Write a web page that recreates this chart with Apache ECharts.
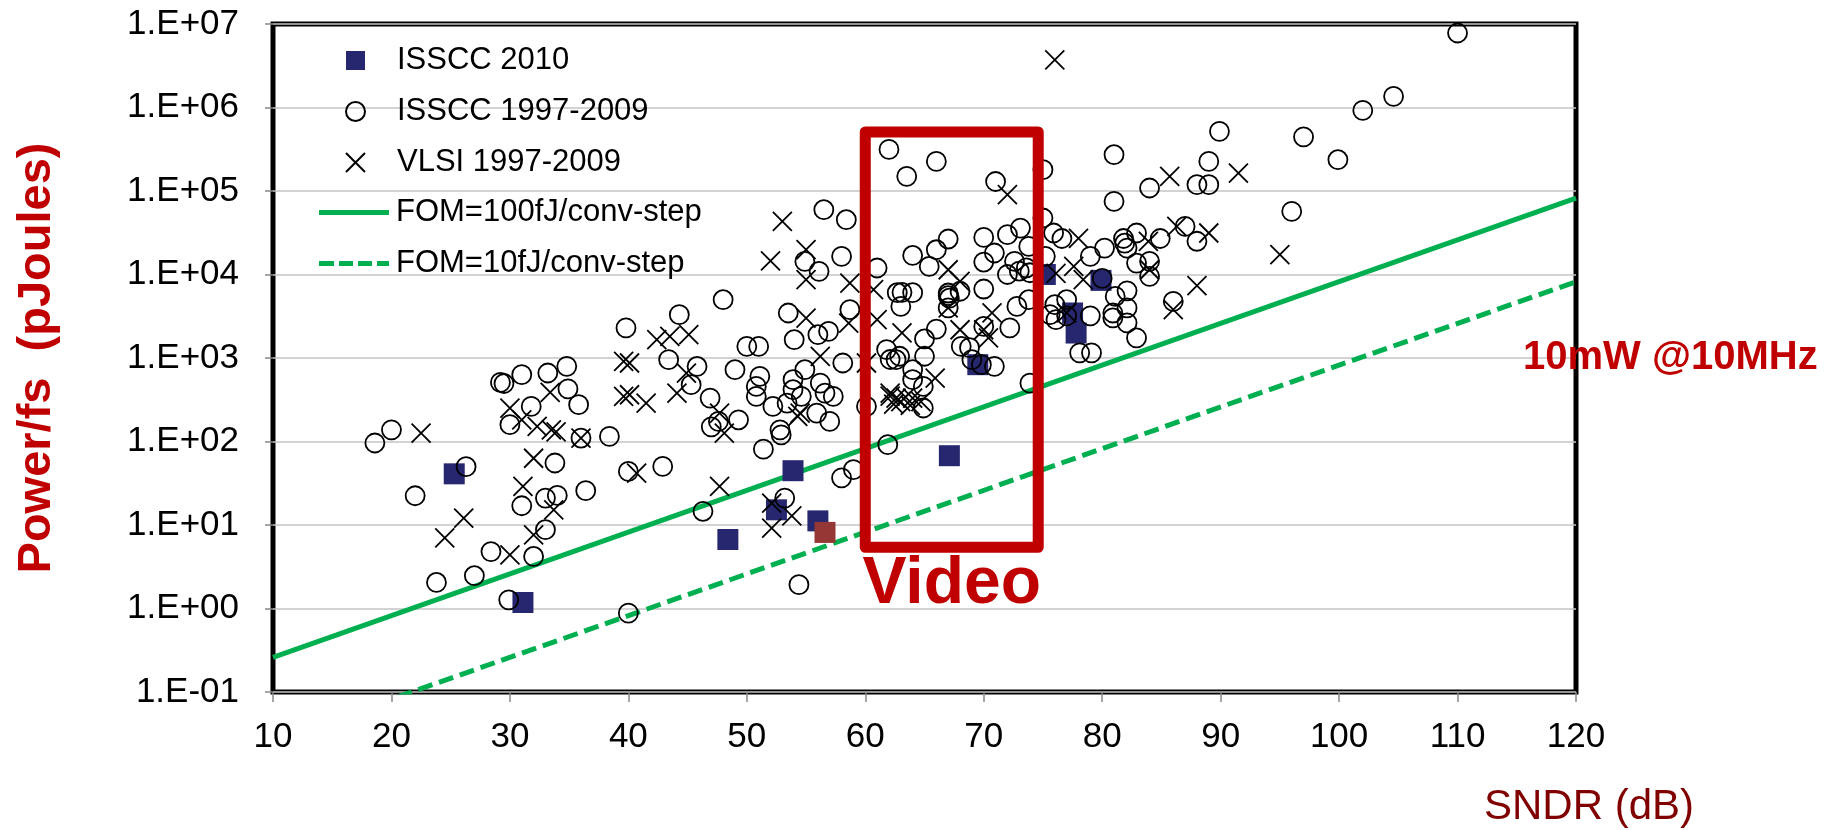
<!DOCTYPE html>
<html>
<head>
<meta charset="utf-8">
<script src="https://cdn.jsdelivr.net/npm/echarts@6/dist/echarts.min.js"></script>
<style>
html,body{margin:0;padding:0;background:#fff;}
#chart{width:1837px;height:830px;}
</style>
</head>
<body>
<div id="chart"></div>
<script>
// ---------- DATA ----------
const yTickLabels = ['1.E-01','1.E+00','1.E+01','1.E+02','1.E+03','1.E+04','1.E+05','1.E+06','1.E+07'];
const legendScatter = ['ISSCC 2010','ISSCC 1997-2009','VLSI 1997-2009'];
const legendLines = ['FOM=100fJ/conv-step','FOM=10fJ/conv-step'];

// [SNDR dB, Power/fs pJ]
const isscc2010 = [[25.3,41],[31.1,1.18],[48.4,6.7],[52.5,15.2],[53.9,44.7],[56.0,11.2],[56.6,8.15],[67.1,67.6],[69.5,832],[75.2,10000],[77.5,3460],[77.8,1990],[79.9,8500]];
const isscc2010Highlight = 6;

const isscc9709 = [
[39.8,2290],[29.2,510],[29.5,495],[31.0,631],[33.2,661],[34.8,794],[34.9,426],[35.8,276],[31.8,263],[30.0,159],
[36.0,110],[38.4,115],[40.0,43.8],[20.0,138],[18.6,96],[26.3,50],[22.0,22.4],[33.8,55.3],[33.0,21],[34.0,22.6],
[36.4,25.8],[31.0,17],[33.0,8.8],[32.0,4.2],[28.4,4.8],[27.0,2.47],[23.8,2.05],[29.9,1.27],[40.0,0.88],
[56.5,59700],[58.4,45300],[58.0,16500],[61.0,11970],[56.1,10900],[54.9,14350],[62.0,315000],[48.0,4990],[44.3,3300],
[53.5,3460],[58.7,3790],[56.9,2085],[56.0,1900],[54.0,1656],[50.0,1377],[51.0,1377],[43.4,955],[45.8,792],[49.0,724],
[51.1,603],[50.8,457],[45.3,479],[46.9,331],[50.8,347],[52.2,263],[53.9,550],[54.9,724],[56.2,501],[57.3,347],[58.1,871],
[54.6,347],[53.9,417],[55.9,219],[56.6,380],[53.4,288],[47.6,174],[49.3,182],[52.8,138],[57.0,174],[60.1,263],[61.8,1260],
[62.6,955],[62.7,6050],[47.0,150],[52.9,120],[51.4,81],[42.9,50.3],[46.3,14.6],[53.2,21],[58.0,36.6],[59.0,46],[61.9,91.6],
[54.4,1.93],[63.5,150000],[66.0,226000],[71.0,130000],[75.0,180000],[81.0,272000],[81.0,75100],[75.0,47500],[67.0,26600],
[70.0,27800],[72.0,30000],[73.1,36000],[66.0,19800],[64.0,16900],[65.4,12500],[70.0,14100],[70.9,18100],[73.8,21700],
[72.6,14400],[72.0,10000],[73.6,12000],[73.0,11000],[73.9,10500],[63.1,6110],[64.0,6050],[63.0,4150],[67.0,6000],[67.0,5600],
[67.1,5200],[68.0,6300],[70.0,6700],[67.0,3980],[72.8,4150],[73.8,4990],[66.0,2220],[70.0,2390],[72.2,2290],[65.0,1690],
[68.1,1380],[68.8,1330],[69.0,955],[69.8,832],[70.9,795],[62.9,1050],[62.1,960],[65.0,1050],[64.0,724],[64.0,550],[64.9,457],
[64.9,252],[73.9,500],[75.9,31400],[76.6,27000],[80.2,20700],[81.8,27000],[82.1,20700],[82.9,31400],[82.9,13700],[79.0,16500],
[75.2,16500],[76.0,4350],[77.0,4990],[75.6,3300],[76.1,2880],[77.0,3200],[81.1,5470],[82.1,6370],[80.9,3460],[82.1,3980],
[80.9,3020],[82.1,2630],[82.9,1740],[78.1,1150],[79.1,1150],[79.0,3200],[80.0,9000],
[104.6,1360000],[102.0,923000],[89.9,518000],[97.0,444000],[99.9,237000],[89.0,226000],[84.0,108600],[88.0,119000],
[89.0,119000],[96.0,57000],[87.0,37700],[84.9,27000],[81.9,23700],[88.0,25000],[84.0,14400],[84.0,9500],[86.0,4760],
[110.0,7800000]
];

const vlsi9709 = [
[22.5,126],[39.6,912],[39.6,347],[30.0,251],[31.0,182],[32.3,152],[33.4,387],[33.5,138],[33.9,130],[32.0,63],[31.1,29],
[33.7,15.2],[32.0,7.6],[30.0,4.4],[26.1,12.1],[24.5,7.0],[36.0,110],
[53.0,43200],[52.0,14600],[55.0,19800],[55.0,8670],[58.7,7900],[60.7,6580],[61.0,2880],[58.6,2620],[55.0,3010],[42.4,1656],
[43.5,1815],[45.1,1900],[40.1,871],[56.2,1047],[60.1,871],[44.9,661],[44.1,380],[40.1,363],[41.5,288],[47.7,219],[54.5,219],
[62.1,380],[62.6,331],
[40.7,41.9],[47.7,29],[52.1,18.3],[53.8,12.9],[52.1,9.2],[48.1,126],[54.3,200],
[72.0,90300],[67.0,11400],[68.0,8260],[67.0,3980],[70.7,3460],[70.0,2180],[70.4,1740],[68.0,2180],[63.1,2000],[65.9,575],
[62.1,350],[63.0,300],[63.4,340],[62.4,280],[64.0,330],[64.7,300],[63.8,270],[78.0,27000],[77.6,12500],[78.4,8670],
[76.1,10300],[77.0,3460],
[85.7,150000],[91.5,164000],[86.3,37700],[89.0,31400],[83.9,25000],[84.0,11400],[95.0,17300],[88.0,7350],[86.0,3790],
[76.0,3730000]
];

const fom100 = [[10,0.26],[120,82000]];
const fom10 = [[10,0.026],[120,8200]];
const videoBox = [[60.0,5.1e5],[74.6,5.4]];
const videoLabel = 'Video';
const noteLabel = '10mW @10MHz';

// ---------- CHART ----------
const chart = echarts.init(document.getElementById('chart'), null, {renderer:'canvas'});
const FONT = 'Liberation Sans, Arial, sans-serif';

const sq = isscc2010.map((p,i)=> i===isscc2010Highlight ? {value:p, itemStyle:{color:'#953735'}} : {value:p});

const ICON_SOLID = 'path://M0,0h70v5h-70z';
const ICON_DASH = 'path://M0,0h15v5h-15zM20,0h14v5h-14zM39,0h14v5h-14zM58,0h12v5h-12z';

const option = {
  animation:false,
  backgroundColor:'#fff',
  grid:{left:273,right:261,top:24,bottom:138,show:true,borderColor:'#000',borderWidth:5,backgroundColor:'transparent',outerBoundsMode:'none'},
  xAxis:{
    type:'value',min:10,max:120,interval:10,
    axisLine:{show:false},
    axisTick:{show:true,length:10,lineStyle:{color:'#888',width:1.5}},
    axisLabel:{margin:28,fontSize:35,color:'#000',fontFamily:FONT},
    splitLine:{show:false},
    name:'SNDR (dB)',nameLocation:'end',nameGap:-92,
    nameTextStyle:{fontSize:42,color:'#800000',fontFamily:FONT,align:'left',verticalAlign:'top',padding:[94,0,0,0]}
  },
  yAxis:{
    type:'log',logBase:10,min:0.1,max:1e7,splitNumber:8,
    axisLine:{show:false},
    axisTick:{show:true,length:8,lineStyle:{color:'#888',width:1.5}},
    axisLabel:{margin:34,fontSize:35,color:'#000',fontFamily:FONT,
      formatter:v=>yTickLabels[Math.round(Math.log10(v))+1]},
    splitLine:{show:true,lineStyle:{color:'#c4c4c4',width:1.5}},
    minorTick:{show:false},
    name:'Power/fs  (pJoules)',nameLocation:'middle',nameGap:212,
    nameTextStyle:{fontSize:47,fontWeight:'bold',color:'#C00000',fontFamily:FONT}
  },
  legend:[
    {data:legendScatter,orient:'vertical',left:345,top:45,padding:0,itemWidth:19,itemHeight:19,itemGap:20,
     textStyle:{fontSize:31,color:'#000',fontFamily:FONT,padding:[0,0,0,27]},selectedMode:false},
    {data:[{name:legendLines[0],icon:ICON_SOLID},{name:legendLines[1],icon:ICON_DASH}],
     orient:'vertical',left:319,top:197,padding:0,itemWidth:70,itemHeight:5,itemGap:20,
     itemStyle:{color:'#00B050',borderWidth:0},
     textStyle:{fontSize:31,color:'#000',fontFamily:FONT,padding:[0,0,0,2]},selectedMode:false}
  ],
  graphic:[
    {type:'text',x:1523,y:358,z:100,style:{text:noteLabel,fill:'#C00000',font:'bold 40px '+FONT,verticalAlign:'middle',align:'left'}}
  ],
  series:[
    {name:legendLines[0],type:'line',data:fom100,symbol:'none',z:1,silent:true,
     lineStyle:{color:'#00B050',width:5},itemStyle:{color:'#00B050'}},
    {name:legendLines[1],type:'line',data:fom10,symbol:'none',z:1,silent:true,
     lineStyle:{color:'#00B050',width:5,type:[15,7]},itemStyle:{color:'#00B050'}},
    {name:legendScatter[0],type:'scatter',data:sq,symbol:'rect',symbolSize:21,z:2,
     itemStyle:{color:'#272770',opacity:1}},
    {name:legendScatter[1],type:'scatter',data:isscc9709,symbol:'circle',symbolSize:19,z:3,
     itemStyle:{color:'rgba(0,0,0,0)',borderColor:'#000',borderWidth:1.8,opacity:1}},
    {name:legendScatter[2],type:'scatter',data:vlsi9709,symbol:'path://M0,0L10,10M10,0L0,10',symbolSize:19,z:3,
     itemStyle:{color:'rgba(0,0,0,0)',borderColor:'#000',borderWidth:1.8,opacity:1}},
    {name:'videoBox',type:'line',data:[],z:5,silent:true,
     markArea:{silent:true,z:5,
       itemStyle:{color:'rgba(0,0,0,0)',borderColor:'#C00000',borderWidth:11,borderJoin:'round'},
       label:{show:true,position:'bottom',distance:-1,formatter:videoLabel,fontSize:66,fontWeight:'bold',color:'#C00000',fontFamily:FONT},
       data:[[{xAxis:videoBox[0][0],yAxis:videoBox[0][1]},{xAxis:videoBox[1][0],yAxis:videoBox[1][1]}]]}}
  ]
};
chart.setOption(option);
</script>
</body>
</html>
